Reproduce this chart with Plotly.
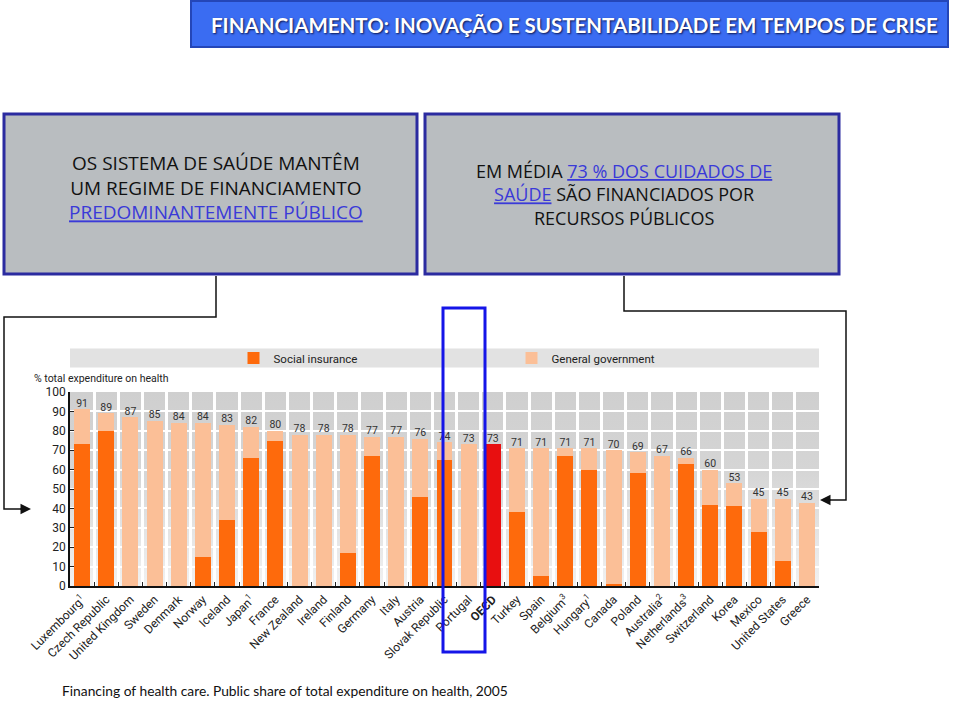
import base64
import plotly.graph_objects as go

countries = ["Luxembourg", "Czech Republic", "United Kingdom", "Sweden", "Denmark", "Norway",
             "Iceland", "Japan", "France", "New Zealand", "Ireland", "Finland", "Germany",
             "Italy", "Austria", "Slovak Republic", "Portugal", "OECD", "Turkey", "Spain",
             "Belgium", "Hungary", "Canada", "Poland", "Australia", "Netherlands",
             "Switzerland", "Korea", "Mexico", "United States", "Greece"]
footnotes = {"Luxembourg": "1", "Japan": "1", "Belgium": "3", "Hungary": "1",
             "Australia": "2", "Netherlands": "3"}
total_public = [91, 89, 87, 85, 84, 84, 83, 82, 80, 78, 78, 78, 77, 77, 76, 74, 73, 73,
                71, 71, 71, 71, 70, 69, 67, 66, 60, 53, 45, 45, 43]
social_insurance = [73, 80, 0, 0, 0, 15, 34, 66, 75, 0, 0, 17, 67, 0, 46, 65, 0, None,
                    38, 5, 67, 60, 1, 58, 0, 63, 42, 41, 28, 13, 0]
y_ticks = list(range(0, 101, 10))

oecd_name = "OECD"
oecd_value = [t if c == oecd_name else None for c, t in zip(countries, total_public)]
general_gov = [None if s is None else t - s for s, t in zip(social_insurance, total_public)]
tick_text = []
for c in countries:
    if c == oecd_name:
        tick_text.append("<b>OECD</b>")
    elif c in footnotes:
        tick_text.append(f"{c}<sup>{footnotes[c]}</sup>")
    else:
        tick_text.append(c)

ORANGE = "#fe6a0c"
LIGHT = "#fbbf97"
RED = "#e80f10"
CHARTFONT = "Roboto, Liberation Sans, sans-serif"
BOXFONT = "Open Sans, Noto Sans, sans-serif"

W, H = 960, 701
# plot area in window pixel coordinates
L, R, T, B = 70, 819, 392, 586


def px(x):
    return (x - L) / (R - L)


def py(y):
    return (B - y) / (B - T)


fig = go.Figure()
fig.add_trace(go.Bar(x=countries, y=social_insurance, name="Social insurance",
                     marker=dict(color=ORANGE, line=dict(width=0))))
fig.add_trace(go.Bar(x=countries, y=oecd_value, name="OECD", showlegend=False,
                     marker=dict(color=RED, line=dict(width=0))))
fig.add_trace(go.Bar(x=countries, y=general_gov, name="General government",
                     marker=dict(color=LIGHT, line=dict(width=0))))
fig.add_trace(go.Scatter(x=countries, y=total_public, mode="text", text=[str(v) for v in total_public],
                         textposition="top center", showlegend=False,
                         textfont=dict(family=CHARTFONT, size=10.5, color="#333333"), hoverinfo="skip"))

svg = ('<svg xmlns="http://www.w3.org/2000/svg" width="10" height="100" preserveAspectRatio="none">'
       '<defs><linearGradient id="g" x1="0" y1="0" x2="0" y2="1">'
       '<stop offset="0" stop-color="#cfcfcf"/><stop offset="0.4" stop-color="#d5d5d5"/>'
       '<stop offset="1" stop-color="#f1f1f1"/></linearGradient></defs>'
       '<rect width="10" height="100" fill="url(#g)"/></svg>')
src = "data:image/svg+xml;base64," + base64.b64encode(svg.encode()).decode()

shapes = []
annotations = []

# title bar
shapes.append(dict(type="rect", xref="paper", yref="paper", x0=px(191), x1=px(948), y0=py(47), y1=py(1),
                   fillcolor="#3a6cf2", line=dict(color="#2446b8", width=2), layer="above"))
title = "FINANCIAMENTO: INOVAÇÃO E SUSTENTABILIDADE EM TEMPOS DE CRISE"
annotations.append(dict(xref="paper", yref="paper", x=px(574), y=py(25), xanchor="center", yanchor="middle",
                        text=f"<b>{title}</b>", showarrow=False,
                        font=dict(family="Lato, Liberation Sans, sans-serif", size=20.5, color="white",
                                  shadow="1px 1px 2px rgba(0,0,40,0.8)")))

# two text boxes
for x0, x1 in [(4, 417), (425, 839)]:
    shapes.append(dict(type="rect", xref="paper", yref="paper", x0=px(x0), x1=px(x1), y0=py(274), y1=py(114),
                       fillcolor="#b9bdc0", line=dict(color="#2b2ba0", width=3), layer="above"))

blue_u = "<span style='color:#3a3ad8;text-decoration:underline'>{}</span>"
left_text = "<br>".join(["OS SISTEMA DE SAÚDE MANTÊM", "UM REGIME DE FINANCIAMENTO",
                         blue_u.format("PREDOMINANTEMENTE PÚBLICO")])
right_text = "<br>".join(["EM MÉDIA " + blue_u.format("73 % DOS CUIDADOS DE"),
                          blue_u.format("SAÚDE") + " SÃO FINANCIADOS POR",
                          "RECURSOS PÚBLICOS"])
annotations.append(dict(xref="paper", yref="paper", x=px(216), y=py(187.5), xanchor="center", yanchor="middle",
                        align="center", text=left_text, showarrow=False,
                        font=dict(family=BOXFONT, size=19, color="#111111")))
annotations.append(dict(xref="paper", yref="paper", x=px(623.5), y=py(194), xanchor="center", yanchor="middle",
                        align="center", text=right_text, showarrow=False,
                        font=dict(family=BOXFONT, size=18, color="#111111")))

# connector lines
path_left = f"M {px(216)},{py(276)} L {px(216)},{py(317)} L {px(4)},{py(317)} L {px(4)},{py(509)} L {px(24)},{py(509)}"
path_right = f"M {px(624)},{py(276)} L {px(624)},{py(311)} L {px(846)},{py(311)} L {px(846)},{py(500)} L {px(826)},{py(500)}"
for p in (path_left, path_right):
    shapes.append(dict(type="path", xref="paper", yref="paper", path=p,
                       line=dict(color="#111111", width=1.5), layer="above"))
annotations.append(dict(xref="paper", yref="paper", x=px(31), y=py(509), ax=-12, ay=0, text="",
                        showarrow=True, arrowhead=2, arrowsize=1.4, arrowwidth=1.5, arrowcolor="#111111"))
annotations.append(dict(xref="paper", yref="paper", x=px(820), y=py(500), ax=12, ay=0, text="",
                        showarrow=True, arrowhead=2, arrowsize=1.4, arrowwidth=1.5, arrowcolor="#111111"))

# legend band
shapes.append(dict(type="rect", xref="paper", yref="paper", x0=0, x1=1, y0=py(367.5), y1=py(348.5),
                   fillcolor="#e2e2e2", line=dict(width=0), layer="below"))

# highlight rectangle around Portugal / OECD
shapes.append(dict(type="rect", xref="paper", yref="paper", x0=px(443), x1=px(485), y0=py(652), y1=py(308),
                   fillcolor="rgba(0,0,0,0)", line=dict(color="#1515e8", width=3), layer="above"))

annotations.append(dict(xref="paper", yref="paper", x=px(32), y=py(378), xanchor="left", yanchor="middle",
                        text="% total expenditure on health", showarrow=False,
                        font=dict(family=CHARTFONT, size=10.5, color="#222222")))
annotations.append(dict(xref="paper", yref="paper", x=px(60), y=py(690), xanchor="left", yanchor="middle",
                        text="Financing of health care. Public share of total expenditure on health, 2005",
                        showarrow=False, font=dict(family="Lato, Open Sans, sans-serif", size=13.8, color="#111111")))

fig.update_layout(
    width=W, height=H,
    margin=dict(l=L, r=W - R, t=T, b=H - B, autoexpand=False),
    paper_bgcolor="white", plot_bgcolor="rgba(0,0,0,0)",
    barmode="stack", bargap=0.34,
    showlegend=True,
    legend=dict(orientation="h", x=px(233.5), y=py(358), xanchor="left", yanchor="middle",
                bgcolor="rgba(0,0,0,0)", entrywidth=233, entrywidthmode="pixels",
                font=dict(family=CHARTFONT, size=11.5, color="#222222"), traceorder="normal"),
    images=[dict(source=src, xref="paper", yref="paper", x=0, y=1, sizex=1, sizey=1,
                 sizing="stretch", layer="below")],
    shapes=shapes, annotations=annotations,
    xaxis=dict(type="category", tickson="boundaries", tickmode="array", tickvals=countries, ticktext=tick_text,
               tickangle=-45, showgrid=True, gridcolor="white", gridwidth=2.5,
               ticks="inside", ticklen=4, tickcolor="#222222", showline=True, linecolor="#111111", linewidth=1.5,
               tickfont=dict(family=CHARTFONT, size=12, color="#222222"), range=[-0.5, len(countries) - 0.5],
               fixedrange=True),
    yaxis=dict(range=[0, 100], tickvals=y_ticks, showgrid=True, gridcolor="white", gridwidth=1.5,
               ticks="inside", ticklen=4, tickcolor="#222222", showline=True, linecolor="#111111", linewidth=1.5,
               zeroline=False, tickfont=dict(family=CHARTFONT, size=12, color="#222222"), fixedrange=True),
)

# remove the browser's default 8px page margin so the figure fills the window exactly
fig.write_html("out.html", config={"displayModeBar": False},
               post_script="document.body.style.margin='0';document.body.style.overflow='hidden';")
